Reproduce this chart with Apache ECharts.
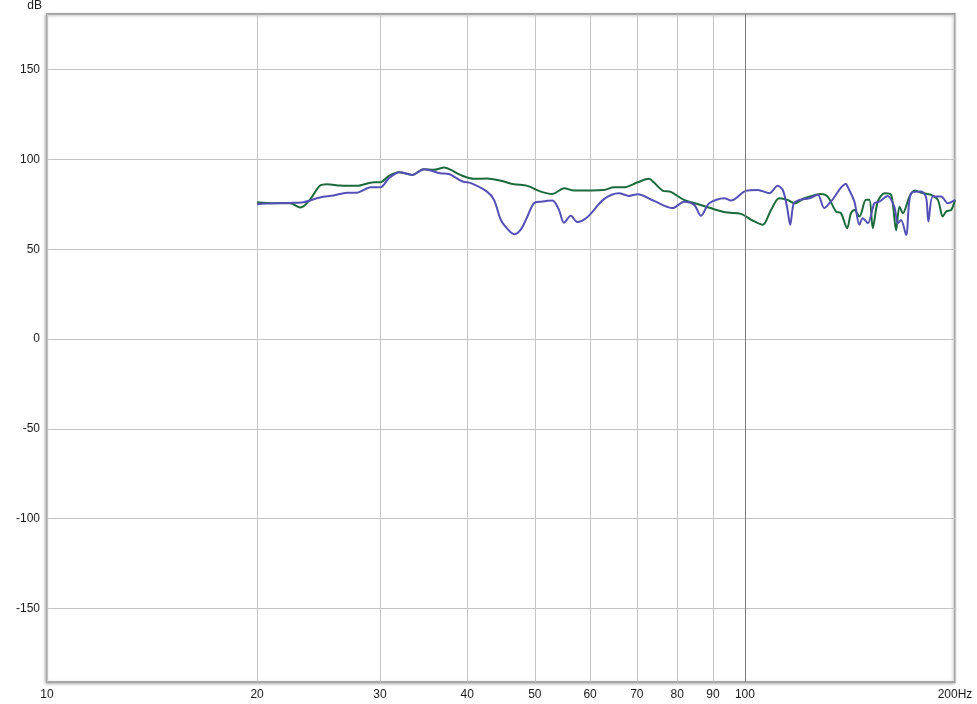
<!DOCTYPE html>
<html>
<head>
<meta charset="utf-8">
<script src="https://cdn.jsdelivr.net/npm/echarts@6/dist/echarts.min.js"></script>
<style>
html,body{margin:0;padding:0;background:#fff;}
#chart{width:977px;height:704px;}
</style>
</head>
<body>
<div id="chart"></div>
<script>
// Frequency axis tick values (Hz) and dB ticks
const xTicks = [10, 20, 30, 40, 50, 60, 70, 80, 90, 100, 200];
const yTicks = [-150, -100, -50, 0, 50, 100, 150];

// Green trace
const greenFreq = [20.0, 21.1, 22.3, 23.1, 23.8, 24.6, 25.2, 26.3, 27.8, 29.4, 30.05, 30.9, 31.9, 33.4, 34.6, 35.8, 37.1, 37.9, 39.1, 40.9, 42.7, 44.7, 46.7, 48.8, 51.0, 53.0, 55.1, 56.9, 62.8, 64.9, 67.1, 70.2, 72.9, 74.1, 76.2, 78.3, 81.8, 85.5, 90.3, 94.5, 98.7, 102.6, 106.0, 109.0, 112.0, 115.1, 117.7, 121.7, 128.5, 131.4, 135.1, 137.3, 140.1, 141.9, 143.5, 145.9, 149.1, 150.8, 152.5, 155.0, 158.5, 162.0, 164.7, 166.5, 168.4, 172.1, 175.0, 178.9, 184.9, 189.0, 192.1, 194.2, 197.5, 200];
const greenDb = [76.2, 75.6, 75.6, 73.2, 77.5, 85.3, 86.2, 85.5, 85.3, 87.3, 87.3, 90.8, 92.9, 91.4, 94.6, 94.2, 95.5, 94.2, 91.4, 89.2, 89.4, 88.1, 86.2, 85.3, 82.1, 80.8, 84.0, 82.7, 83.0, 84.5, 84.5, 87.3, 89.2, 87.1, 82.7, 81.9, 77.5, 75.2, 72.3, 70.4, 69.7, 66.0, 63.6, 71.9, 78.4, 77.5, 75.6, 78.4, 80.8, 79.3, 71.0, 70.1, 61.7, 70.1, 71.9, 68.2, 77.5, 77.5, 61.7, 76.5, 81.2, 80.3, 60.5, 73.7, 70.1, 79.3, 82.7, 81.5, 80.3, 77.5, 68.2, 71.0, 71.9, 77.5];

// Blue trace
const blueFreq = [20.0, 21.1, 22.3, 23.3, 24.6, 25.75, 26.9, 27.8, 29.1, 30.05, 30.9, 32.0, 33.4, 34.7, 36.6, 37.65, 39.4, 40.5, 42.7, 43.7, 44.7, 45.55, 46.7, 47.7, 48.7, 49.85, 51.0, 53.0, 54.15, 55.05, 56.3, 57.5, 59.5, 62.8, 66.0, 68.2, 70.2, 74.1, 78.8, 81.8, 84.6, 86.5, 88.9, 93.4, 95.5, 100.3, 104.3, 108.4, 111.4, 113.3, 114.9, 116.1, 117.5, 119.7, 123.7, 127.2, 129.9, 132.8, 139.6, 140.3, 143.5, 145.9, 147.5, 150.0, 153.3, 155.8, 160.2, 163.7, 165.6, 167.4, 170.2, 173.0, 178.9, 181.8, 183.2, 185.9, 191.1, 195.3, 200];
const blueDb = [75.1, 75.6, 75.8, 76.2, 78.8, 79.9, 81.5, 81.5, 84.5, 84.5, 89.6, 92.9, 91.4, 94.6, 92.3, 91.9, 87.7, 86.8, 82.1, 77.5, 66.3, 61.9, 58.4, 60.8, 67.5, 75.6, 76.5, 77.2, 71.9, 64.8, 68.6, 65.2, 68.0, 77.9, 81.2, 79.7, 80.6, 76.9, 72.9, 76.5, 74.7, 68.6, 75.6, 78.4, 77.1, 82.5, 83.0, 81.2, 85.3, 83.0, 73.7, 63.6, 75.6, 77.5, 78.4, 80.3, 72.9, 76.5, 86.4, 84.9, 76.5, 63.6, 67.3, 64.5, 75.6, 76.5, 79.7, 73.7, 64.5, 66.3, 58.0, 81.2, 82.1, 79.0, 65.4, 79.3, 79.3, 75.6, 77.5];

const greenData = greenFreq.map((f, i) => [f, greenDb[i]]);
const blueData = blueFreq.map((f, i) => [f, blueDb[i]]);

const chart = echarts.init(document.getElementById('chart'), null, {renderer: 'canvas'});
const font = 'Liberation Sans, Arial, sans-serif';

chart.setOption({
  animation: false,
  backgroundColor: '#ffffff',
  grid: {
    left: 47, right: 22, top: 14, bottom: 22,
    containLabel: false,
    outerBoundsMode: 'none',
    show: true,
    borderColor: '#a6a6a6',
    borderWidth: 2,
    backgroundColor: '#ffffff',
    shadowColor: 'rgba(0,0,0,0.25)',
    shadowBlur: 3,
    shadowOffsetX: -1,
    shadowOffsetY: 1
  },
  xAxis: {
    type: 'log',
    logBase: 10,
    min: 10,
    max: 200,
    axisLine: {show: false},
    axisTick: {show: false, customValues: xTicks},
    axisLabel: {
      customValues: xTicks,
      fontFamily: font, fontSize: 12, color: '#1a1a1a', margin: 7,
      formatter: v => (Math.round(v) === 200 ? '200Hz' : String(Math.round(v)))
    },
    splitLine: {show: true, lineStyle: {color: '#c4c4c4', width: 1}}
  },
  yAxis: {
    type: 'value',
    min: -191,
    max: 181,
    name: 'dB',
    nameLocation: 'end',
    nameGap: 8,
    nameTextStyle: {fontFamily: font, fontSize: 12, color: '#1a1a1a', align: 'right', verticalAlign: 'middle', padding: [0, 5, 0, 0]},
    axisLine: {show: false},
    axisTick: {show: false, customValues: yTicks},
    axisLabel: {customValues: yTicks, fontFamily: font, fontSize: 12, color: '#1a1a1a', margin: 7},
    splitLine: {show: true, lineStyle: {color: '#c4c4c4', width: 1}}
  },
  series: [
    {
      name: 'green',
      type: 'line',
      data: greenData,
      showSymbol: false,
      smooth: 0.3,
      lineStyle: {color: '#1b6a3c', width: 2},
      itemStyle: {color: '#1b6a3c'},
      z: 3,
      markLine: {
        silent: true,
        symbol: 'none',
        label: {show: false},
        lineStyle: {color: '#7a7a7a', width: 1, type: 'solid'},
        data: [{xAxis: 100}]
      }
    },
    {
      name: 'blue',
      type: 'line',
      data: blueData,
      showSymbol: false,
      smooth: 0.3,
      lineStyle: {color: '#5450b6', width: 2},
      itemStyle: {color: '#5450b6'},
      z: 4
    }
  ]
});
</script>
</body>
</html>
